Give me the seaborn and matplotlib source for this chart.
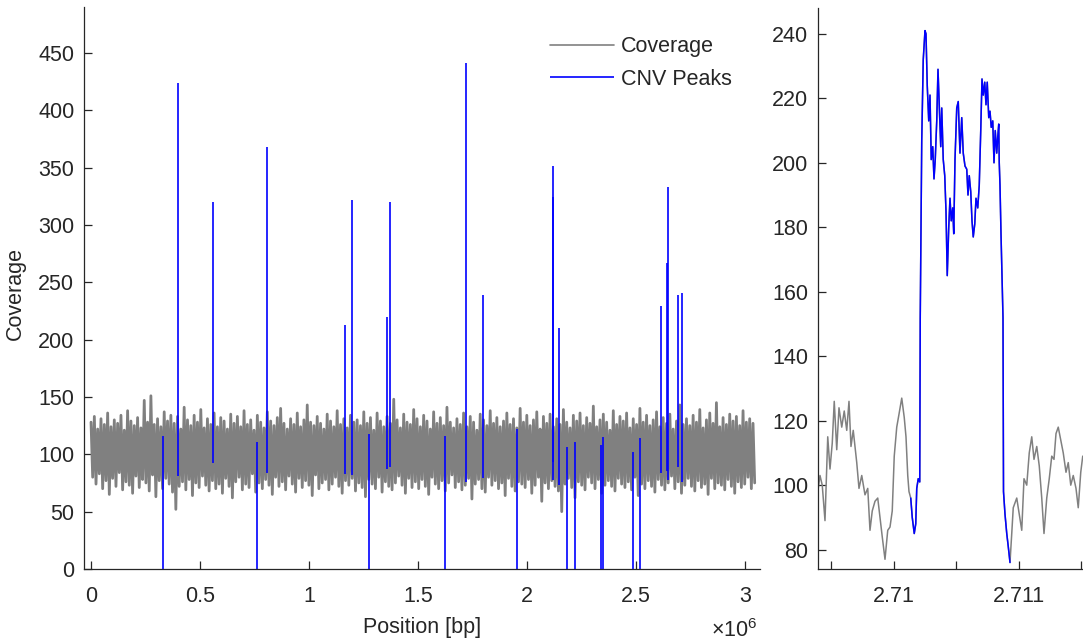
import numpy as np
import pandas as pd
import matplotlib
matplotlib.use('Agg')
import matplotlib.pyplot as plt
import seaborn as sns

# ==========================================
# DATA
# ==========================================
# binned genome-wide coverage (grey band)
bin_size = 7630
coverage = [
    128, 80, 133, 74, 122, 83, 131, 70, 126, 77, 136, 65, 124, 79, 130, 72, 127, 84, 134, 69,
    121, 76, 138, 73, 129, 66, 125, 81, 132, 71, 123, 78, 147, 75, 128, 68, 151, 82, 126, 63,
    131, 77, 124, 70, 137, 79, 129, 74, 134, 67, 127, 52, 133, 72, 122, 76, 141, 69, 130, 78,
    125, 64, 134, 75, 128, 71, 139, 81, 123, 73, 131, 68, 126, 77, 136, 70, 124, 74, 132, 66,
    129, 79, 122, 72, 135, 62, 127, 76, 133, 80, 124, 69, 138, 74, 126, 71, 130, 83, 121, 67,
    134, 75, 128, 70, 123, 78, 137, 73, 129, 65, 125, 80, 132, 72, 140, 76, 127, 69, 122, 81,
    131, 74, 126, 67, 136, 79, 124, 71, 130, 77, 143, 73, 128, 64, 125, 82, 133, 70, 127, 75,
    122, 78, 135, 69, 129, 74, 124, 80, 138, 72, 126, 66, 131, 77, 123, 73, 134, 79, 128, 68,
    130, 75, 125, 71, 137, 63, 127, 78, 132, 74, 121, 70, 136, 80, 129, 67, 124, 76, 133, 72,
    127, 69, 148, 75, 130, 81, 123, 73, 135, 66, 128, 79, 126, 71, 139, 76, 131, 70, 124, 78,
    134, 72, 129, 65, 122, 80, 137, 74, 127, 70, 132, 77, 125, 68, 141, 75, 128, 82, 123, 71,
    131, 76, 126, 69, 136, 73, 124, 79, 133, 61, 128, 74, 121, 78, 135, 70, 130, 67, 125, 80,
    138, 73, 127, 77, 132, 70, 124, 75, 129, 64, 136, 79, 126, 72, 131, 68, 123, 76, 140, 74,
    128, 71, 134, 78, 125, 66, 130, 73, 137, 80, 122, 59, 133, 75, 127, 70, 135, 77, 124, 72,
    131, 68, 126, 50, 139, 74, 128, 79, 123, 71, 134, 62, 129, 76, 136, 73, 125, 69, 132, 80,
    127, 75, 142, 70, 124, 78, 130, 66, 135, 73, 128, 77, 121, 72, 138, 68, 126, 79, 133, 74,
    129, 71, 136, 76, 123, 69, 131, 80, 126, 64, 140, 74, 128, 70, 134, 77, 125, 72, 130, 67,
    137, 78, 124, 73, 132, 69, 127, 75, 135, 81, 122, 70, 129, 76, 143, 66, 126, 73, 131, 79,
    125, 72, 134, 68, 128, 77, 139, 71, 123, 74, 130, 65, 136, 79, 127, 70, 145, 75, 124, 73,
    132, 69, 126, 78, 135, 72, 129, 66, 133, 76, 125, 71, 138, 74, 128, 80, 131, 70, 127, 75,
]

# CNV calls: position [bp], lowest and highest coverage inside the call
peak_pos = [400000, 561000, 809000, 1165000, 1196000, 1356000, 1372000, 1719000,
            1800000, 2117000, 2121000, 2148000, 2615000, 2643000, 2645000, 2694000, 2710500,
            329000, 761000, 1275000, 1624000, 1953000, 2185000, 2219000, 2338000,
            2349000, 2485000, 2520000]
peak_low = [81, 92, 84, 83, 82, 87, 89, 76,
            79, 93, 78, 73, 84, 85, 78, 89, 76,
            0, 0, 0, 0, 0, 0, 0, 0,
            0, 0, 0]
peak_high = [424, 320, 368, 213, 322, 220, 320, 441,
             239, 351, 324, 210, 229, 267, 333, 239, 241,
             116, 111, 118, 116, 122, 106, 111, 108,
             115, 102, 114]

# zoom around the CNV at ~2.71 Mb
zoom_pos = [2709394, 2709408, 2709426, 2709448, 2709470, 2709488, 2709506, 2709522, 2709542, 2709560,
            2709582, 2709602, 2709622, 2709640, 2709656, 2709674, 2709702, 2709720, 2709742, 2709768,
            2709790, 2709808, 2709826, 2709848, 2709870, 2709888, 2709906, 2709928, 2709950, 2709968,
            2709986, 2710002, 2710022, 2710040, 2710062, 2710082, 2710096, 2710110, 2710120, 2710134,
            2710146, 2710162, 2710174, 2710182, 2710194, 2710206, 2710210, 2710222, 2710234, 2710248,
            2710256, 2710266, 2710278, 2710288, 2710298, 2710310, 2710320, 2710330, 2710342, 2710352,
            2710362, 2710374, 2710382, 2710394, 2710406, 2710416, 2710426, 2710438, 2710448, 2710458,
            2710470, 2710478, 2710488, 2710502, 2710514, 2710528, 2710542, 2710554, 2710568, 2710582,
            2710592, 2710602, 2710614, 2710624, 2710634, 2710646, 2710656, 2710670, 2710682, 2710694,
            2710704, 2710714, 2710726, 2710736, 2710746, 2710758, 2710768, 2710778, 2710790, 2710800,
            2710810, 2710822, 2710830, 2710838, 2710842, 2710848, 2710856, 2710864, 2710872, 2710876,
            2710888, 2710902, 2710914, 2710928, 2710942, 2710954, 2710982, 2711002, 2711022, 2711040,
            2711062, 2711082, 2711102, 2711120, 2711142, 2711162, 2711182, 2711200, 2711222, 2711242,
            2711262, 2711280, 2711296, 2711314, 2711334, 2711354, 2711376, 2711394, 2711414, 2711434,
            2711456, 2711474, 2711494, 2711510, 2711530]
zoom_cov = [99, 103, 100, 89, 115, 105, 113, 126, 111, 124,
            118, 123, 117, 126, 112, 117, 107, 99, 103, 97,
            99, 86, 92, 95, 96, 90, 84, 77, 86, 87,
            92, 109, 118, 122, 127, 121, 115, 103, 98, 96,
            90, 85, 88, 99, 102, 101, 152, 207, 232, 241,
            240, 224, 213, 221, 201, 205, 195, 201, 213, 229,
            218, 205, 217, 201, 196, 185, 165, 180, 189, 182,
            186, 178, 201, 217, 219, 203, 214, 203, 199, 198,
            190, 196, 191, 182, 177, 181, 189, 186, 193, 210,
            226, 221, 225, 218, 225, 214, 216, 211, 213, 200,
            210, 203, 208, 212, 200, 193, 178, 165, 152, 98,
            91, 85, 81, 76, 85, 93, 96, 91, 86, 102,
            100, 110, 115, 108, 112, 106, 96, 85, 96, 102,
            109, 108, 116, 118, 114, 110, 104, 107, 100, 103,
            99, 93, 104, 109, 106]
cnv_start, cnv_end = 2710134, 2710928

x_ticks = [0, 500000, 1000000, 1500000, 2000000, 2500000, 3000000]
x_labels = ['0', '0.5', '1', '1.5', '2', '2.5', '3']
zoom_ticks = [2709500, 2710000, 2710500, 2711000, 2711500]
zoom_labels = ['', '2.71', '', '2.711', '']

# ==========================================
# STYLE
# ==========================================
sns.set_theme(style='ticks')
plt.rcParams['font.family'] = ['Liberation Sans', 'DejaVu Sans']
plt.rcParams['mathtext.fontset'] = 'custom'
plt.rcParams['mathtext.rm'] = 'Liberation Sans'
plt.rcParams['path.simplify'] = False   # keep every zig-zag of the coverage band
TXT = '#262626'
FS = 15.5
GREY = '#808080'
BLUE = '#0000ff'

fig = plt.figure(figsize=(10.83, 6.44), dpi=100)
ax1 = fig.add_axes([0.0776, 0.1165, 0.6242, 0.8727])
ax2 = fig.add_axes([0.7553, 0.1165, 0.2447, 0.8710])

# ==========================================
# LEFT: whole genome
# ==========================================
df = pd.DataFrame({'pos': np.arange(len(coverage)) * bin_size, 'cov': coverage})
sns.lineplot(data=df, x='pos', y='cov', ax=ax1, color=GREY, lw=2.0,
             estimator=None, sort=False, label='Coverage')
ax1.vlines(peak_pos, peak_low, peak_high, colors=BLUE, lw=1.2, label='CNV Peaks')

ax1.set_xlim(-32000, 3069000)
ax1.set_ylim(0, 490)
ax1.set_xticks(x_ticks)
ax1.set_xticklabels(x_labels)
ax1.set_yticks(range(0, 451, 50))
ax1.set_xlabel('Position [bp]', fontsize=FS, color=TXT)
ax1.set_ylabel('Coverage', fontsize=FS, color=TXT)
ax1.xaxis.set_label_coords(0.5, -0.085)
ax1.yaxis.set_label_coords(-0.086, 0.49)
leg = ax1.legend(loc='upper left', bbox_to_anchor=(0.689, 0.948), frameon=False,
                 handlelength=3.0, handletextpad=0.3, labelspacing=0.55,
                 borderpad=0, borderaxespad=0, fontsize=FS)
for h in leg.legend_handles:
    h.set_linewidth(1.2)
fig.text(711 / 1083, 2 / 644, r'$\times10^{6}$', fontsize=FS, color=TXT,
         ha='left', va='bottom')

# ==========================================
# RIGHT: zoom on one CNV
# ==========================================
dfz = pd.DataFrame({'pos': zoom_pos, 'cov': zoom_cov})
cnv = dfz[(dfz['pos'] >= cnv_start) & (dfz['pos'] <= cnv_end)]
sns.lineplot(data=dfz, x='pos', y='cov', ax=ax2, color=GREY, lw=1.1,
             estimator=None, sort=False)
sns.lineplot(data=cnv, x='pos', y='cov', ax=ax2, color=BLUE, lw=1.1,
             estimator=None, sort=False)
ax2.set_xlim(2709392, 2711512)
ax2.set_ylim(74, 248)
ax2.set_xticks(zoom_ticks)
ax2.set_xticklabels(zoom_labels)
ax2.set_yticks(range(80, 241, 20))
ax2.set_xlabel('')
ax2.set_ylabel('')

for ax in (ax1, ax2):
    sns.despine(ax=ax)
    ax.tick_params(direction='in', length=5.5, width=0.9, colors=TXT,
                   labelsize=FS, pad=7)
    ax.tick_params(axis='x', pad=12)
    for s in ('left', 'bottom'):
        ax.spines[s].set_color(TXT)
        ax.spines[s].set_linewidth(0.9)

fig.savefig('out.png', dpi=100)
